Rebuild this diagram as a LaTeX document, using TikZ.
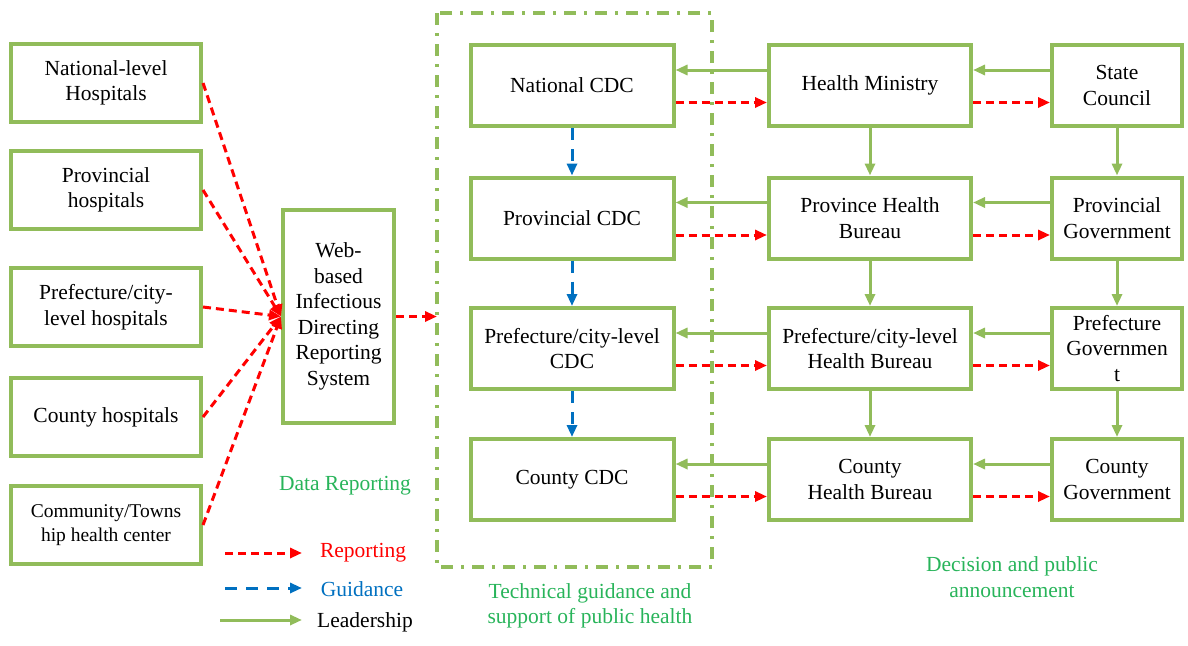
\documentclass[tikz,border=0pt]{standalone}
\usepackage{fontspec}
\setmainfont{Liberation Serif}
\usetikzlibrary{arrows.meta}
\definecolor{boxgreen}{RGB}{145,188,90}
\definecolor{labelgreen}{RGB}{40,180,90}
\definecolor{guideblue}{RGB}{0,112,192}
\tikzset{
  unit/.style={draw=boxgreen, line width=4pt, fill=white, align=center,
    inner sep=0pt, font=\fontsize{21.5}{25.5}\selectfont},
  hosp/.style={unit, minimum width=190pt, minimum height=78pt},
  cdc/.style={unit, minimum width=203pt, minimum height=81pt},
  bureau/.style={unit, minimum width=202pt, minimum height=81pt},
  govt/.style={unit, minimum width=130pt, minimum height=81pt},
  caption/.style={align=center, font=\fontsize{21.5}{25.5}\selectfont},
  report/.style={red, line width=3pt, dash pattern=on 8pt off 5pt,
    -{Triangle[length=12pt,width=10pt]}},
  guide/.style={guideblue, line width=3pt, dash pattern=on 12pt off 9pt,
    -{Triangle[length=12pt,width=10pt]}},
  lead/.style={boxgreen, line width=3pt, -{Triangle[length=12pt,width=10pt]}},
  techbox/.style={boxgreen, line width=4pt, dash pattern=on 12pt off 8pt on 3pt off 8pt}
}
\begin{document}
\begin{tikzpicture}[x=1pt, y=-1pt]
      \useasboundingbox (0,0) rectangle (1188,645);

      % Technical guidance box
      \coordinate (tgnw) at (437,13);
      \coordinate (tgse) at (712,567);
      \draw[techbox] (tgnw) rectangle (tgse);

      % Hospitals
      \node[hosp] (nlh) at (106,83) {National-level\\Hospitals};
      \node[hosp] (ph) at (106,190) {Provincial\\hospitals};
      \node[hosp] (pch) at (106,307) {Prefecture/city-\\level hospitals};
      \node[hosp] (ch) at (106,417) {County hospitals};
      \node[hosp, font=\fontsize{19.5}{24}\selectfont] (cth) at (106,525) {Community/Towns\\hip health center};

      % Reporting system
      \node[unit, minimum width=111pt, minimum height=213pt] (web) at (338.5,316.5)
        {Web-\\based\\Infectious\\Directing\\Reporting\\System};

      \foreach \h in {nlh, ph, pch, ch, cth}{
          \draw[report] (\h.east) -- (web.west);
        }
      \draw[report] (web.east) -- (web.east -| tgnw);

      % CDC, health bureaus, governments
      \node[cdc] (cdc1) at (572,85.5) {National CDC};
      \node[cdc] (cdc2) at (572,218) {Provincial CDC};
      \node[cdc] (cdc3) at (572,348.5) {Prefecture/city-level\\CDC};
      \node[cdc] (cdc4) at (572,479.5) {County CDC};

      \node[bureau] (hb1) at (870,85.5) {Health Ministry};
      \node[bureau] (hb2) at (870,218) {Province Health\\Bureau};
      \node[bureau] (hb3) at (870,348.5) {Prefecture/city-level\\Health Bureau};
      \node[bureau] (hb4) at (870,479.5) {County\\Health Bureau};

      \node[govt] (gov1) at (1117,85.5) {State\\Council};
      \node[govt] (gov2) at (1117,218) {Provincial\\Government};
      \node[govt] (gov3) at (1117,348.5) {Prefecture\\Governmen\\t};
      \node[govt] (gov4) at (1117,479.5) {County\\Government};

      % horizontal links
      \foreach \i in {1,...,4}{
          \draw[lead] ([yshift=15.5pt]hb\i.west) -- ([yshift=15.5pt]cdc\i.east);
          \draw[lead] ([yshift=15.5pt]gov\i.west) -- ([yshift=15.5pt]hb\i.east);
          \draw[report] ([yshift=-17pt]cdc\i.east) -- ([yshift=-17pt]hb\i.west);
          \draw[report] ([yshift=-17pt]hb\i.east) -- ([yshift=-17pt]gov\i.west);
        }

      % vertical links
      \foreach \i/\j in {1/2, 2/3, 3/4}{
          \draw[guide] (cdc\i.south) -- (cdc\j.north);
          \draw[lead] (hb\i.south) -- (hb\j.north);
          \draw[lead] (gov\i.south) -- (gov\j.north);
        }

      % labels
      \node[caption, text=labelgreen] (datarep) at (345,486) {Data Reporting};
      \node[caption, text=labelgreen] (techlbl) at (590,606) {Technical guidance and\\support of public health};
      \node[caption, text=labelgreen] (decilbl) at (1012,577) {Decision and public\\announcement};

      % legend
      \coordinate (reps) at (225,553);
      \coordinate (repe) at (302,553);
      \coordinate (guis) at (225,588);
      \coordinate (guie) at (302,588);
      \coordinate (leas) at (220,620);
      \coordinate (leae) at (302,620);
      \draw[report] (reps) -- (repe);
      \draw[guide] (guis) -- (guie);
      \draw[lead] (leas) -- (leae);
      \node[caption, text=red] (replbl) at (363,553) {Reporting};
      \node[caption, text=guideblue] (guilbl) at (362,589) {Guidance};
      \node[caption] (lealbl) at (365,622) {Leadership};

    \end{tikzpicture}
\end{document}
